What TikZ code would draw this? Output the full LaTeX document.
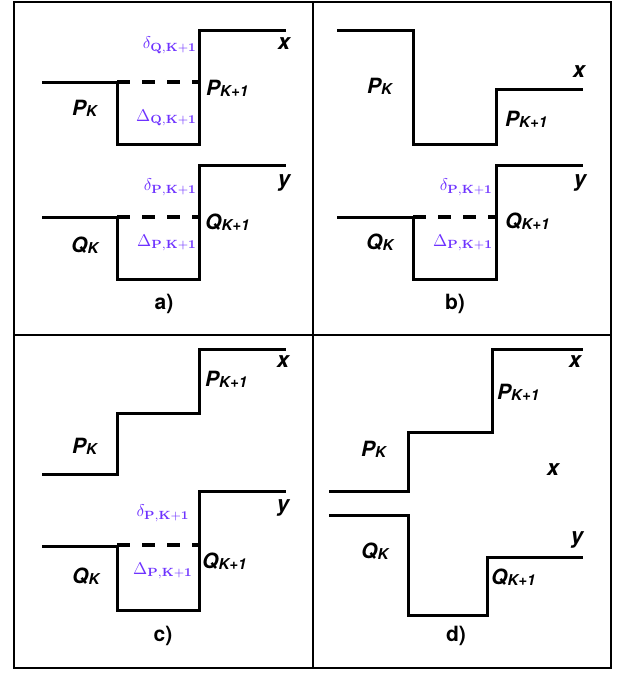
\RequirePackage{fix-cm}
\documentclass[tikz,border=0pt]{standalone}
\usepackage[no-math]{fontspec}
\usepackage{graphicx}
\setmainfont{TeX Gyre Heros}
\definecolor{lblpurple}{RGB}{110,50,255}
\newcommand\slab[2]{#1\raisebox{-1pt}{\fontsize{15}{15}\selectfont #2}}
\newcommand\plab[1]{\scalebox{1.7}{$#1$}}
\begin{document}
\begin{tikzpicture}[x=1pt,y=-1pt,
  sig/.style={line width=3pt,line join=miter},
  dsh/.style={line width=3.2pt,dash pattern=on 13pt off 12pt},
  frame/.style={line width=1.3pt},
  lab/.style={font=\fontsize{21}{22}\selectfont\bfseries\itshape,inner sep=0pt},
  var/.style={font=\fontsize{22}{22}\selectfont\bfseries\itshape,inner sep=0pt},
  panelcap/.style={font=\fontsize{21}{22}\selectfont\bfseries,inner sep=0pt},
  pl/.style={text=lblpurple,inner sep=0pt}]
\useasboundingbox (0,0) rectangle (618,673);
% frame
\draw[frame] (14,2) rectangle (611,668);
\draw[frame] (313,2) -- (313,668);
\draw[frame] (14,335) -- (611,335);

% ---------- panel a ----------
\draw[sig] (42,82) -- (117,82) -- (117,144) -- (199,144) -- (199,30) -- (286,30);
\draw[dsh] (117,82) -- (199,82);
\draw[sig] (42,217) -- (117,217) -- (117,279) -- (199,279) -- (199,165) -- (286,165);
\draw[dsh] (117,217) -- (199,217);
\node[var] (ax) at (284,44) {x};
\node[var] (ay) at (284,183) {y};
\node[lab,anchor=west] (aP1) at (206,88) {\slab{P}{K+1}};
\node[lab,anchor=west] (aP) at (72,108) {\slab{P}{K}};
\node[lab,anchor=west] (aQ1) at (205,222) {\slab{Q}{K+1}};
\node[lab,anchor=west] (aQ) at (71,245) {\slab{Q}{K}};
\node[pl,anchor=east] (adq) at (197,45) {\plab{\delta_{\mathbf{Q,K+1}}}};
\node[pl,anchor=east] (aDq) at (197,118) {\plab{\Delta_{\mathbf{Q,K+1}}}};
\node[pl,anchor=east] (adp) at (197,187) {\plab{\delta_{\mathbf{P,K+1}}}};
\node[pl,anchor=east] (aDp) at (197,243) {\plab{\Delta_{\mathbf{P,K+1}}}};
\node[panelcap] (acap) at (164,304) {a)};

% ---------- panel b ----------
\draw[sig] (337,30) -- (413,30) -- (413,144) -- (496,144) -- (496,89) -- (583,89);
\draw[sig] (337,217) -- (413,217) -- (413,279) -- (496,279) -- (496,165) -- (583,165);
\draw[dsh] (413,217) -- (496,217);
\node[var] (bx) at (579,72) {x};
\node[var] (by) at (580,183) {y};
\node[lab,anchor=west] (bP) at (367,86) {\slab{P}{K}};
\node[lab,anchor=west] (bP1) at (505,119) {\slab{P}{K+1}};
\node[lab,anchor=west] (bQ1) at (505,221) {\slab{Q}{K+1}};
\node[lab,anchor=west] (bQ) at (366,242) {\slab{Q}{K}};
\node[pl,anchor=east] (bdp) at (493,187) {\plab{\delta_{\mathbf{P,K+1}}}};
\node[pl,anchor=east] (bDp) at (493,243) {\plab{\Delta_{\mathbf{P,K+1}}}};
\node[panelcap] (bcap) at (455,304) {b)};

% ---------- panel c ----------
\draw[sig] (42,474) -- (117,474) -- (117,413) -- (199,413) -- (199,349) -- (286,349);
\draw[sig] (42,546) -- (117,546) -- (117,610) -- (199,610) -- (199,491) -- (286,491);
\draw[dsh] (117,545) -- (199,545);
\node[var] (cx) at (283,362) {x};
\node[var] (cy) at (283,508) {y};
\node[lab,anchor=west] (cP1) at (205,379) {\slab{P}{K+1}};
\node[lab,anchor=west] (cP) at (72,446) {\slab{P}{K}};
\node[lab,anchor=west] (cQ1) at (202,561) {\slab{Q}{K+1}};
\node[lab,anchor=west] (cQ) at (72,576) {\slab{Q}{K}};
\node[pl] (cdp) at (163,513) {\plab{\delta_{\mathbf{P,K+1}}}};
\node[pl] (cDp) at (163,571) {\plab{\Delta_{\mathbf{P,K+1}}}};
\node[panelcap] (ccap) at (163,636) {c)};

% ---------- panel d ----------
\draw[sig] (329,491) -- (408,491) -- (408,432) -- (492,432) -- (492,349) -- (583,349);
\draw[sig] (329,515) -- (408,515) -- (408,615) -- (487,615) -- (487,557) -- (583,557);
\node[var] (dx) at (575,362) {x};
\node[var] (dx2) at (553,470) {x};
\node[var] (dy) at (577,540) {y};
\node[lab,anchor=west] (dP1) at (497,392) {\slab{P}{K+1}};
\node[lab,anchor=west] (dP) at (361,449) {\slab{P}{K}};
\node[lab,anchor=west] (dQ) at (361,551) {\slab{Q}{K}};
\node[lab,anchor=west] (dQ1) at (491,577) {\slab{Q}{K+1}};
\node[panelcap] (dcap) at (456,636) {d)};
\end{tikzpicture}
\end{document}
